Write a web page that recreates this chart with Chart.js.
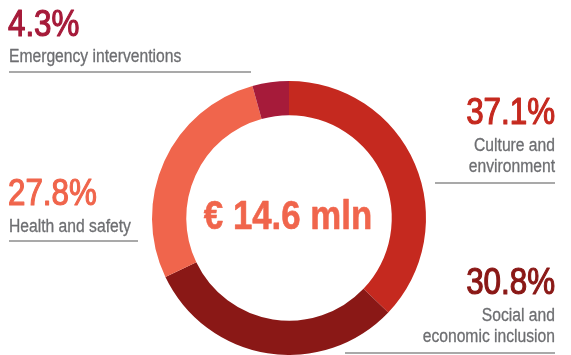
<!DOCTYPE html>
<html>
<head>
<meta charset="utf-8">
<script src="https://cdn.jsdelivr.net/npm/chart.js"></script>
<style>
  html, body { margin: 0; padding: 0; background: #ffffff; }
  #wrap { position: relative; width: 571px; height: 355px; }
</style>
</head>
<body>
<div id="wrap"><canvas id="fundsChart"></canvas></div>
<script>
// Allocation by area (percent of total)
const areas = ['Culture and environment', 'Social and economic inclusion', 'Health and safety', 'Emergency interventions'];
const shares = [37.1, 30.8, 27.8, 4.3];
const sliceColors = ['#c5291f', '#8a1816', '#f0654c', '#a61b3a'];
const totalLabel = '€ 14.6 mln';

const GREY = '#6d6e71';
const SQUEEZE = 0.87; // narrow the sans face to a condensed look

function condensedText(ctx, text, x, y, align, font, color, weight) {
    ctx.save();
    ctx.font = font;
    ctx.fillStyle = color;
    ctx.textAlign = align;
    ctx.textBaseline = 'alphabetic';
    ctx.translate(x, y);
    ctx.scale(SQUEEZE, 1);
    ctx.fillText(text, 0, 0);
    if (weight) {
        // thicken the strokes a little
        ctx.strokeStyle = color;
        ctx.lineWidth = weight;
        ctx.lineJoin = 'round';
        ctx.strokeText(text, 0, 0);
    }
    ctx.restore();
}

function rule(ctx, x1, x2, y) {
    ctx.save();
    ctx.strokeStyle = '#8c8c8c';
    ctx.lineWidth = 1.5;
    ctx.beginPath();
    ctx.moveTo(x1, y);
    ctx.lineTo(x2, y);
    ctx.stroke();
    ctx.restore();
}

// callout blocks: which slice, anchor side, text lines
const callouts = [
    { i: 3, align: 'left',  x: 8,   pctY: 36,  lines: ['Emergency interventions'], lineY: [62], rule: [9, 251, 72] },
    { i: 0, align: 'right', x: 555, pctY: 124, lines: ['Culture and', 'environment'], lineY: [151, 172], rule: [435, 555, 183] },
    { i: 2, align: 'left',  x: 8,   pctY: 205, lines: ['Health and safety'], lineY: [232], rule: [9, 138, 241] },
    { i: 1, align: 'right', x: 555, pctY: 294, lines: ['Social and', 'economic inclusion'], lineY: [321, 342], rule: [345, 555, 353] }
];

const labelsPlugin = {
    id: 'calloutLabels',
    afterDraw(chart) {
        const ctx = chart.ctx;
        const meta = chart.getDatasetMeta(0).data[0];
        const cx = meta.x, cy = meta.y;

        condensedText(ctx, totalLabel, cx - 1, cy + 11, 'center',
            'bold 40px "Liberation Sans", Arial, sans-serif', '#f0654c', 0.6);

        callouts.forEach(c => {
            condensedText(ctx, shares[c.i].toFixed(1) + '%', c.x, c.pctY, c.align,
                '36px "Liberation Sans", Arial, sans-serif', sliceColors[c.i], 1.2);
            c.lines.forEach((t, k) => {
                condensedText(ctx, t, c.x + (c.align === 'left' ? 1 : 0), c.lineY[k], c.align,
                    '18px "Liberation Sans", Arial, sans-serif', GREY, 0.3);
            });
            rule(ctx, c.rule[0], c.rule[1], c.rule[2]);
        });
    }
};

new Chart(document.getElementById('fundsChart'), {
    type: 'doughnut',
    data: {
        labels: areas,
        datasets: [{
            data: shares,
            backgroundColor: sliceColors,
            borderWidth: 0,
            hoverOffset: 0
        }]
    },
    options: {
        responsive: true,
        maintainAspectRatio: false,
        animation: false,
        cutout: '75%',
        layout: { padding: { top: 81, bottom: 0, left: 152, right: 145 } },
        plugins: {
            legend: { display: false },
            tooltip: { enabled: false }
        }
    },
    plugins: [labelsPlugin]
});
</script>
</body>
</html>
